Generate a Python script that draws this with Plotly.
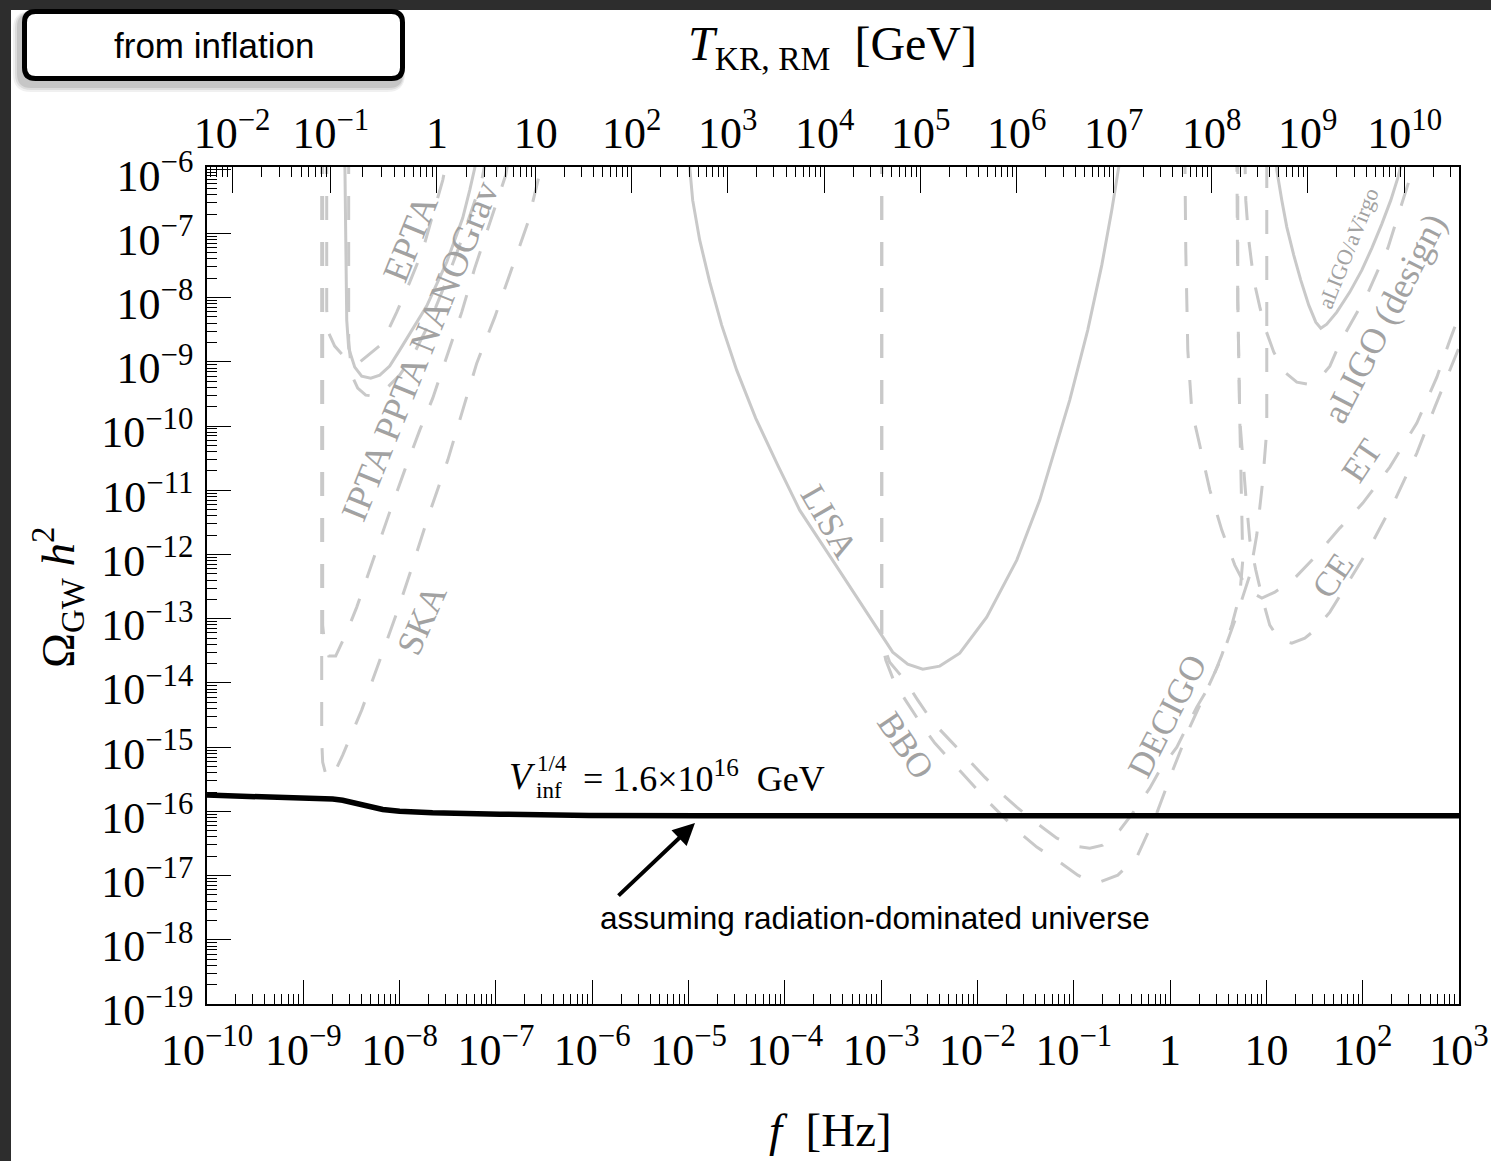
import numpy as np
import plotly.graph_objects as go

# ---------------- data ----------------
# inflationary GW spectrum (black)
infl_f = [1e-10, 2.77e-10, 1.01e-9, 2.02e-9, 2.56e-9, 3.26e-9, 4.56e-9, 6.68e-9,
          1.0e-8, 2.2e-8, 1.1e-7, 9.3e-7, 1.3e-5, 1e-3, 1e3]
infl_omega = [1.79e-16, 1.73e-16, 1.61e-16, 1.55e-16, 1.49e-16, 1.36e-16, 1.175e-16, 1.07e-16,
              1.0e-16, 9.48e-17, 9.04e-17, 8.63e-17, 8.57e-17, 8.55e-17, 8.55e-17]

# sensitivity curves, log10(f/Hz) and log10(Omega h^2)
ska_logf = [-8.809, -8.809, -8.799, -8.767, -8.726, -8.674, -8.591, -8.394, -8.206, -8.030,
            -7.864, -7.708, -7.500, -7.345, -7.199, -7.012, -6.835, -6.670, -6.545, -6.493]
ska_logomega = [-5.704, -14.891, -15.234, -15.421, -15.483, -15.390, -15.125, -14.424, -13.646, -12.914,
                -12.166, -11.434, -10.531, -9.753, -9.021, -8.305, -7.542, -6.841, -6.062, -5.704]

ipta_logf = [-8.799, -8.799, -8.778, -8.736, -8.664, -8.549, -8.445, -8.279, -8.103, -7.947,
             -7.791, -7.656, -7.511, -7.355, -7.220, -7.064, -6.991, -6.898, -6.856]
ipta_logomega = [-5.704, -13.101, -13.412, -13.583, -13.583, -13.210, -12.820, -12.088, -11.341, -10.687,
                 -10.064, -9.566, -8.927, -8.227, -7.542, -6.841, -6.529, -6.093, -5.704]

pta_dash_logf = [-8.757, -8.757, -8.736, -8.674, -8.591, -8.497, -8.414, -8.342, -8.186, -8.030,
                 -7.895, -7.760, -7.656, -7.552, -7.490]
pta_dash_logomega = [-5.704, -8.196, -8.554, -8.756, -8.896, -9.005, -9.005, -8.912, -8.725, -8.227,
                     -7.760, -7.261, -6.716, -6.171, -5.704]

nanograv_logf = [-8.529, -8.529, -8.497, -8.435, -8.352, -8.269, -8.155, -7.999, -7.843, -7.687,
                 -7.532, -7.376, -7.251, -7.147, -7.085]
nanograv_logomega = [-5.704, -8.663, -9.208, -9.410, -9.519, -9.535, -9.441, -9.208, -8.850, -8.382,
                     -7.806, -7.183, -6.638, -6.171, -5.704]

epta_logf = [-8.570, -8.560, -8.549, -8.529, -8.466, -8.394, -8.300, -8.206, -8.103, -7.999,
             -7.854, -7.719, -7.511, -7.345, -7.272, -7.220, -7.199]
epta_logomega = [-5.704, -7.261, -8.351, -8.787, -9.083, -9.223, -9.254, -9.208, -9.068, -8.818,
                 -8.460, -8.133, -7.448, -6.763, -6.327, -5.984, -5.704]

lisa_logf = [-4.998, -4.988, -4.957, -4.884, -4.780, -4.656, -4.500, -4.303, -4.074, -3.846,
             -3.430, -3.015, -2.880, -2.724, -2.568, -2.392, -2.184, -1.904, -1.592, -1.353,
             -1.042, -0.855, -0.709, -0.605, -0.533, -0.512]
lisa_logomega = [-5.860, -5.969, -6.483, -7.106, -7.760, -8.429, -9.130, -9.877, -10.609, -11.310,
                 -12.260, -13.225, -13.521, -13.708, -13.786, -13.739, -13.537, -12.976, -12.088, -11.154,
                 -9.597, -8.507, -7.495, -6.638, -5.969, -5.860]

bbo_logf = [-2.994, -2.994, -2.952, -2.859, -2.734, -2.578, -2.443, -2.256, -2.080, -1.904,
            -1.592, -1.384, -1.176, -0.958, -0.834, -0.730, -0.543, -0.346, -0.231, -0.138,
            0.028, 0.205, 0.381, 0.537, 0.693, 0.828, 0.900, 0.963, 1.004, 1.004]
bbo_logomega = [-5.704, -13.334, -13.646, -14.004, -14.300, -14.658, -14.938, -15.249, -15.545, -15.826,
                -16.293, -16.557, -16.760, -16.993, -17.087, -17.102, -16.993, -16.713, -16.339, -16.028,
                -15.359, -14.689, -14.113, -13.599, -12.945, -12.322, -11.699, -10.843, -10.064, -5.704]

decigo_logf = [-2.994, -2.994, -2.911, -2.755, -2.620, -2.464, -2.287, -2.111, -1.924, -1.768,
               -1.592, -1.384, -1.176, -0.989, -0.834, -0.699, -0.523, -0.388, -0.211, -0.107,
               0.070, 0.174, 0.277, 0.413, 0.537, 0.641, 0.724, 0.755, 0.745, 0.724, 0.703, 0.693]
decigo_logomega = [-5.704, -13.334, -13.677, -13.957, -14.268, -14.611, -14.891, -15.172, -15.468, -15.701,
                   -15.935, -16.184, -16.417, -16.542, -16.573, -16.526, -16.293, -16.028, -15.639, -15.359,
                   -15.000, -14.689, -14.377, -14.035, -13.568, -13.101, -12.633, -12.088, -11.154, -9.908,
                   -8.040, -5.704]

et_logf = [0.153, 0.163, 0.184, 0.225, 0.308, 0.413, 0.537, 0.672, 0.807, 0.953,
           1.087, 1.274, 1.503, 1.762, 2.001, 2.282, 2.562, 2.770, 2.905, 2.998, 3.061]
et_logomega = [-5.704, -7.261, -8.818, -9.753, -10.298, -10.998, -11.621, -12.166, -12.556, -12.680,
               -12.587, -12.400, -12.042, -11.590, -11.201, -10.640, -9.955, -9.239, -8.663, -8.273, -8.040]

ce_logf = [0.703, 0.703, 0.724, 0.755, 0.786, 0.828, 0.890, 0.963, 1.035, 1.139,
           1.264, 1.399, 1.503, 1.659, 1.867, 2.074, 2.334, 2.562, 2.749, 2.874, 2.998, 3.061]
ce_logomega = [-5.704, -8.040, -9.908, -10.531, -11.076, -11.777, -12.244, -12.711, -13.101, -13.334,
               -13.381, -13.303, -13.178, -12.898, -12.400, -11.886, -11.154, -10.422, -9.706, -9.239,
               -8.787, -8.585]

aligo_design_logf = [0.776, 0.786, 0.817, 0.869, 0.932, 0.994, 1.077, 1.191, 1.316, 1.430,
                     1.555, 1.659, 1.763, 1.887, 2.053, 2.261, 2.437, 2.510, 2.552]
aligo_design_logomega = [-5.704, -6.483, -7.106, -7.728, -8.149, -8.507, -8.850, -9.161, -9.317, -9.348,
                         -9.254, -9.068, -8.709, -8.382, -7.931, -7.230, -6.405, -6.047, -5.704]

aligo_o_logf = [1.098, 1.108, 1.160, 1.212, 1.284, 1.357, 1.440, 1.513, 1.565, 1.627,
                1.731, 1.866, 1.991, 2.095, 2.198, 2.292, 2.364, 2.416, 2.437]
aligo_o_logomega = [-5.704, -6.016, -6.483, -6.903, -7.339, -7.728, -8.118, -8.382, -8.476, -8.414,
                    -8.227, -7.915, -7.573, -7.230, -6.856, -6.483, -6.140, -5.860, -5.704]

# axis ticks
f_tick_exp = list(range(-10, 4))
f_tick_text = ["10<sup>\u221210</sup>", "10<sup>\u22129</sup>", "10<sup>\u22128</sup>", "10<sup>\u22127</sup>",
               "10<sup>\u22126</sup>", "10<sup>\u22125</sup>", "10<sup>\u22124</sup>", "10<sup>\u22123</sup>",
               "10<sup>\u22122</sup>", "10<sup>\u22121</sup>", "1", "10", "10<sup>2</sup>", "10<sup>3</sup>"]
omega_tick_exp = list(range(-19, -5))
omega_tick_text = ["10<sup>\u2212%d</sup>" % (-e) for e in omega_tick_exp]

# top axis: temperature labels and the frequencies where they sit
T_tick_text = ["10<sup>\u22122</sup>", "10<sup>\u22121</sup>", "1", "10", "10<sup>2</sup>", "10<sup>3</sup>",
               "10<sup>4</sup>", "10<sup>5</sup>", "10<sup>6</sup>", "10<sup>7</sup>", "10<sup>8</sup>",
               "10<sup>9</sup>", "10<sup>10</sup>"]
T_tick_f = [1.82e-10, 1.93e-9, 2.44e-8, 2.59e-7, 2.57e-6, 2.55e-5, 2.59e-4, 2.58e-3, 2.56e-2,
            0.26, 2.71, 26.9, 273.0]

# curve labels: text, log10 f, log10 Omega, angle, size
label_text = ["EPTA", "IPTA PPTA NANOGrav", "SKA", "LISA", "BBO", "DECIGO",
              "aLIGO/aVirgo", "aLIGO (design)", "ET", "CE"]
label_logf = [-7.895, -7.791, -7.771, -3.534, -2.745, -0.034, 1.845, 2.229, 1.991, 1.690]
label_logomega = [-7.074, -8.818, -13.023, -11.497, -14.969, -14.518, -7.230, -8.320, -10.531, -12.322]
label_angle = [-68, -68, -66, 60, 56, -63, -68, -63, -56, -56]
label_size = [37, 37, 36, 35, 35, 35, 22, 36, 35, 35]

# ---------------- figure geometry ----------------
W, H = 1491, 1161
ML, MR, MT, MB = 207, 32, 167, 157
PW, PH = W - ML - MR, H - MT - MB


def px(x):
    return (x - ML) / PW


def py(y):
    return (H - MB - y) / PH


GRAY = "#c9c9c9"
LABEL_GRAY = "#a2a2a2"
DASH = "24px,22px"
SERIF = "Liberation Serif"
SANS = "Liberation Sans"

fig = go.Figure()

curves = [
    (ska_logf, ska_logomega, DASH),
    (ipta_logf, ipta_logomega, DASH),
    (pta_dash_logf, pta_dash_logomega, DASH),
    (nanograv_logf, nanograv_logomega, DASH),
    (epta_logf, epta_logomega, "solid"),
    (lisa_logf, lisa_logomega, "solid"),
    (bbo_logf, bbo_logomega, DASH),
    (decigo_logf, decigo_logomega, DASH),
    (et_logf, et_logomega, DASH),
    (ce_logf, ce_logomega, DASH),
    (aligo_design_logf, aligo_design_logomega, DASH),
    (aligo_o_logf, aligo_o_logomega, "solid"),
]
for lf, lo, dash in curves:
    fig.add_trace(go.Scatter(x=np.power(10.0, lf), y=np.power(10.0, lo), mode="lines",
                             line=dict(color=GRAY, width=3, dash=dash),
                             hoverinfo="skip", showlegend=False))

fig.add_trace(go.Scatter(x=infl_f, y=infl_omega, mode="lines",
                         line=dict(color="black", width=5.5),
                         hoverinfo="skip", showlegend=False))

# invisible trace to activate the top axis
fig.add_trace(go.Scatter(x=[1e-10, 1e3], y=[1e-19, 1e-19], xaxis="x2", mode="markers",
                         marker=dict(opacity=0), hoverinfo="skip", showlegend=False))

# minor ticks
x_minor = [k * 10.0 ** n for n in range(-10, 3) for k in range(2, 10)]
y_minor = [k * 10.0 ** n for n in range(-19, -6) for k in range(2, 10)]
T_minor = []
for i in range(len(T_tick_f) - 1):
    ratio = T_tick_f[i + 1] / T_tick_f[i]
    for k in range(2, 10):
        T_minor.append(T_tick_f[i] * ratio ** np.log10(k))
r0 = T_tick_f[1] / T_tick_f[0]
for k in range(2, 10):
    v = T_tick_f[0] / r0 * r0 ** np.log10(k)
    if v > 1e-10:
        T_minor.append(v)
rl = T_tick_f[-1] / T_tick_f[-2]
for k in range(2, 10):
    v = T_tick_f[-1] * rl ** np.log10(k)
    if v < 1e3:
        T_minor.append(v)

tickfont = dict(family=SERIF, size=44, color="black")

fig.update_layout(
    width=W, height=H,
    margin=dict(l=ML, r=MR, t=MT, b=MB, autoexpand=False),
    paper_bgcolor="#2d2d2d", plot_bgcolor="white", showlegend=False,
    xaxis=dict(type="log", range=[-10, 3], tickmode="array",
               tickvals=[10.0 ** e for e in f_tick_exp], ticktext=f_tick_text,
               ticks="inside", ticklen=24, tickwidth=1.3, tickcolor="black",
               showline=True, linecolor="black", linewidth=1.6, mirror=True,
               showgrid=False, zeroline=False, tickfont=tickfont, ticklabelstandoff=6,
               minor=dict(tickmode="array", tickvals=x_minor, ticks="inside", ticklen=10,
                          tickwidth=1.2, tickcolor="black", showgrid=False)),
    xaxis2=dict(type="log", range=[-10, 3], overlaying="x", side="top", anchor="y",
                tickmode="array", tickvals=T_tick_f, ticktext=T_tick_text,
                ticks="inside", ticklen=26, tickwidth=1.3, tickcolor="black",
                showline=False, showgrid=False, zeroline=False, tickfont=tickfont,
                ticklabelstandoff=9,
                minor=dict(tickmode="array", tickvals=T_minor, ticks="inside", ticklen=10,
                           tickwidth=1.2, tickcolor="black", showgrid=False)),
    yaxis=dict(type="log", range=[-19, -5.967], tickmode="array",
               tickvals=[10.0 ** e for e in omega_tick_exp], ticktext=omega_tick_text,
               ticks="inside", ticklen=24, tickwidth=1.3, tickcolor="black",
               showline=True, linecolor="black", linewidth=1.6, mirror=True,
               showgrid=False, zeroline=False, tickfont=tickfont, ticklabelstandoff=3,
               ticklabelshift=6,
               minor=dict(tickmode="array", tickvals=y_minor, ticks="inside", ticklen=10,
                          tickwidth=1.2, tickcolor="black", showgrid=False)),
)


def rpath(x0, y0, x1, y1, r):
    return (f"M {px(x0 + r)},{py(y0)} L {px(x1 - r)},{py(y0)} Q {px(x1)},{py(y0)} {px(x1)},{py(y0 + r)} "
            f"L {px(x1)},{py(y1 - r)} Q {px(x1)},{py(y1)} {px(x1 - r)},{py(y1)} "
            f"L {px(x0 + r)},{py(y1)} Q {px(x0)},{py(y1)} {px(x0)},{py(y1 - r)} "
            f"L {px(x0)},{py(y0 + r)} Q {px(x0)},{py(y0)} {px(x0 + r)},{py(y0)} Z")


shapes = [
    dict(type="rect", xref="paper", yref="paper", x0=px(11), x1=px(W + 20), y0=py(10), y1=py(H + 20),
         fillcolor="white", line=dict(width=0), layer="below"),
]
# drop shadow of the box
for grow, alpha in [(6, 0.06), (4, 0.08), (2, 0.10)]:
    shapes.append(dict(type="path", xref="paper", yref="paper",
                       path=rpath(22 - 3 - grow, 9 + 5 - grow / 2, 405 - 3 + grow / 2, 81 + 5 + grow, 12 + grow),
                       fillcolor=f"rgba(0,0,0,{alpha})", line=dict(width=0), layer="above"))
shapes.append(dict(type="path", xref="paper", yref="paper", path=rpath(24.5, 11.5, 402.5, 78.5, 11),
                   fillcolor="white", line=dict(color="black", width=5), layer="above"))
fig.update_layout(shapes=shapes)

ann = []
ann.append(dict(text="from inflation", xref="paper", yref="paper", x=px(213.5), y=py(45),
                showarrow=False, xanchor="center", yanchor="middle",
                font=dict(family=SANS, size=35, color="black")))
ann.append(dict(text="<i>T</i><sub>KR, RM</sub>  [GeV]", xref="paper", yref="paper", x=px(832), y=py(47),
                showarrow=False, xanchor="center", yanchor="middle",
                font=dict(family=SERIF, size=48, color="black")))
ann.append(dict(text="Ω<sub>GW</sub> <i>h</i><sup>2</sup>", xref="paper", yref="paper", x=px(58), y=py(598),
                showarrow=False, xanchor="center", yanchor="middle", textangle=-90,
                font=dict(family=SERIF, size=47, color="black")))
ann.append(dict(text="<i>f</i>  [Hz]", xref="paper", yref="paper", x=px(830), y=py(1130),
                showarrow=False, xanchor="center", yanchor="middle",
                font=dict(family=SERIF, size=47, color="black")))
# V_inf^{1/4} = 1.6 x 10^16 GeV
ann.append(dict(text="<i>V</i>", xref="paper", yref="paper", x=px(522), y=py(777),
                showarrow=False, xanchor="center", yanchor="middle",
                font=dict(family=SERIF, size=37, color="black")))
ann.append(dict(text="1/4", xref="paper", yref="paper", x=px(552), y=py(763),
                showarrow=False, xanchor="center", yanchor="middle",
                font=dict(family=SERIF, size=23, color="black")))
ann.append(dict(text="inf", xref="paper", yref="paper", x=px(549), y=py(791),
                showarrow=False, xanchor="center", yanchor="middle",
                font=dict(family=SERIF, size=23, color="black")))
ann.append(dict(text="= 1.6×10<sup>16</sup>  GeV", xref="paper", yref="paper", x=px(581), y=py(777),
                showarrow=False, xanchor="left", yanchor="middle",
                font=dict(family=SERIF, size=36, color="black")))
# arrow
ann.append(dict(text="", xref="paper", yref="paper", x=px(695), y=py(823), ax=-78, ay=74,
                axref="pixel", ayref="pixel", showarrow=True, arrowhead=2, arrowsize=1.1,
                arrowwidth=4, arrowcolor="black"))
ann.append(dict(text="assuming radiation-dominated universe", xref="paper", yref="paper",
                x=px(875), y=py(918), showarrow=False, xanchor="center", yanchor="middle",
                font=dict(family=SANS, size=31.5, color="black")))
for t, lf, lo, a, s in zip(label_text, label_logf, label_logomega, label_angle, label_size):
    ann.append(dict(text=t, xref="x", yref="y", x=lf, y=lo, showarrow=False, textangle=a,
                    xanchor="center", yanchor="middle",
                    font=dict(family=SERIF, size=s, color=LABEL_GRAY)))
fig.update_layout(annotations=ann)

fig.write_html("out.html",
               config={"displayModeBar": False},
               post_script="document.body.style.margin='0px';"
                           "document.body.style.background='#2d2d2d';"
                           "document.body.style.overflow='hidden';")
